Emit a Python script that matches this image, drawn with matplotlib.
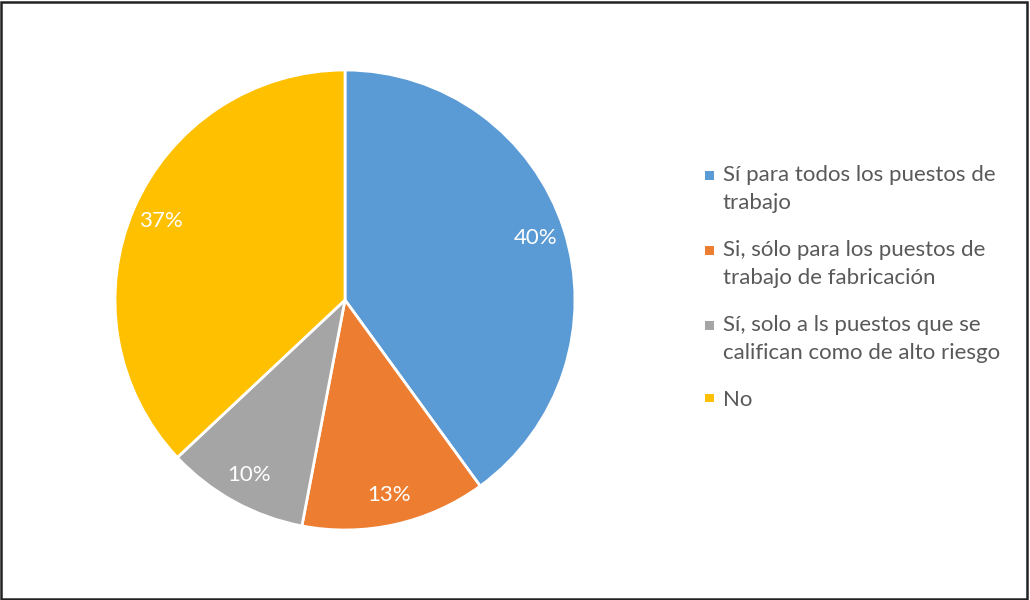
import matplotlib
matplotlib.use("Agg")
import matplotlib.pyplot as plt
from matplotlib.patches import Rectangle
from matplotlib.legend_handler import HandlerPatch

categories = [
    "Sí para todos los puestos de\ntrabajo",
    "Si, sólo para los puestos de\ntrabajo de fabricación",
    "Sí, solo a ls puestos que se\ncalifican como de alto riesgo",
    "No",
]
values = [40, 13, 10, 37]
colors = ["#5B9BD5", "#ED7D31", "#A5A5A5", "#FFC000"]

plt.rcParams['font.family'] = ['Lato', 'DejaVu Sans']

fig = plt.figure(figsize=(10.30, 6.00), dpi=100)
# pie axes: center (345,300), radius 230 px
ax = fig.add_axes([(345 - 230) / 1030, (300 - 230) / 600, 460 / 1030, 460 / 600])
wedges, texts, autotexts = ax.pie(
    values, colors=colors, startangle=90, counterclock=False,
    autopct=lambda p: f"{p:.0f}%", pctdistance=0.87,
    wedgeprops=dict(edgecolor="white", linewidth=2),
    textprops=dict(color="white", fontsize=16),
)
ax.set_aspect("equal")
ax.set_xlim(-1, 1)
ax.set_ylim(-1, 1)


class ShiftedSquare(HandlerPatch):
    def __init__(self, shift):
        super().__init__()
        self.shift = shift

    def create_artists(self, legend, orig_handle, xdescent, ydescent,
                       width, height, fontsize, trans):
        sq = min(width, height)
        p = Rectangle((-xdescent + (width - sq) / 2,
                       -ydescent + (height - sq) / 2 + self.shift),
                      sq, sq, facecolor=orig_handle.get_facecolor(),
                      edgecolor="none", transform=trans)
        return [p]


handles = [Rectangle((0, 0), 1, 1, facecolor=c) for c in colors]
hmap = {}
for h, lab in zip(handles, categories):
    nlines = lab.count("\n") + 1
    hmap[h] = ShiftedSquare(shift=(nlines - 1) * 10.0)

leg = fig.legend(
    handles, categories, handler_map=hmap,
    loc="upper left", bbox_to_anchor=(705 / 1030, 1 - 165 / 600),
    frameon=False, fontsize=16, labelcolor="#595959",
    handlelength=0.4, handleheight=0.4, handletextpad=0.4,
    labelspacing=1.2, borderpad=0, borderaxespad=0,
)
for t in leg.get_texts():
    t.set_linespacing(1.52)

# outer border
fig.patches.append(Rectangle((0.001, 0.002), 0.996, 0.995, transform=fig.transFigure,
                             fill=False, edgecolor="#222222", linewidth=1.8))

fig.savefig("out.png", dpi=100, facecolor="white")
